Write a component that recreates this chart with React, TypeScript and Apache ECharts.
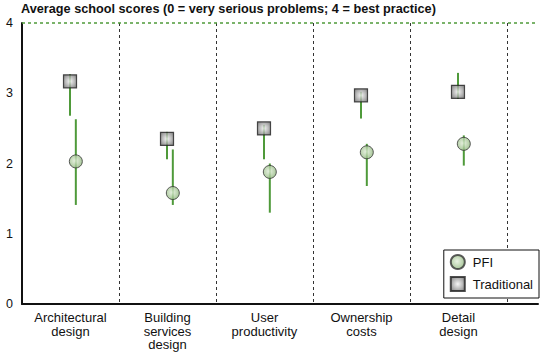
import React, { useEffect, useRef } from "react";
import * as echarts from "echarts";

const categories = ["Architectural\ndesign", "Building\nservices\ndesign", "User\nproductivity", "Ownership\ncosts", "Detail\ndesign"];
const yTicks = [0, 1, 2, 3, 4];

const pfiMean = [2.03, 1.58, 1.88, 2.16, 2.28];
const pfiLow = [1.41, 1.41, 1.30, 1.68, 1.97];
const pfiHigh = [2.63, 2.20, 2.00, 2.28, 2.40];

const tradMean = [3.17, 2.35, 2.50, 2.97, 3.02];
const tradLow = [2.68, 2.06, 2.06, 2.64, 2.92];
const tradHigh = [3.27, 2.45, 2.55, 3.02, 3.29];

const pfiOffset = 0.555;
const tradOffset = 0.495;

export default function App() {
  const ref = useRef<HTMLDivElement>(null);
  useEffect(() => {
    if (!ref.current) return;
    document.body.style.margin = "0";
    const chart = echarts.init(ref.current, undefined, { renderer: "svg" });
    const font = "Liberation Sans, Arial, Helvetica, sans-serif";
    const errData = (means: number[], lows: number[], highs: number[], off: number) =>
      means.map((_, i) => [i + off, lows[i], highs[i]]);
    const renderErr = (params: any, api: any) => {
      const x = api.value(0);
      const p1 = api.coord([x, api.value(1)]);
      const p2 = api.coord([x, api.value(2)]);
      return {
        type: "line",
        shape: { x1: p1[0], y1: p1[1], x2: p2[0], y2: p2[1] },
        style: { stroke: "#4f9a3a", lineWidth: 2 },
      };
    };
    const greenGrad = new echarts.graphic.RadialGradient(0.45, 0.45, 0.6, [
      { offset: 0, color: "#e4efdc" },
      { offset: 1, color: "#8db57a" },
    ]);
    const grayGrad = new echarts.graphic.RadialGradient(0.5, 0.5, 0.65, [
      { offset: 0, color: "#f4f4f4" },
      { offset: 1, color: "#6a6a6a" },
    ]);
    chart.setOption({
      animation: false,
      backgroundColor: "#fff",
      title: {
        text: "Average school scores (0 = very serious problems; 4 = best practice)",
        left: 21,
        top: 2,
        padding: 0,
        textStyle: { fontFamily: font, fontSize: 12.7, fontWeight: "bold", color: "#111" },
      },
      grid: { left: 22, right: 4, top: 23, bottom: 49 },
      legend: {
        orient: "vertical",
        right: 3,
        bottom: 55,
        data: ["PFI", "Traditional"],
        backgroundColor: "#fff",
        borderColor: "#111",
        borderWidth: 1,
        borderRadius: 0,
        padding: [4, 6, 6, 6],
        itemGap: 6,
        itemWidth: 14,
        itemHeight: 14,
        textStyle: { fontFamily: font, fontSize: 13, color: "#111", padding: [0, 0, 0, 3] },
      },
      xAxis: {
        type: "value",
        min: 0,
        max: 5.32,
        interval: 1,
        axisLine: { show: true, lineStyle: { color: "#111", width: 2 } },
        axisTick: { show: false },
        axisLabel: {
          customValues: categories.map((_, i) => i + 0.5),
          formatter: (v: number) => categories[Math.round(v - 0.5)] ?? "",
          fontFamily: font,
          fontSize: 13,
          color: "#111",
          lineHeight: 13.5,
          margin: 7,
          showMinLabel: true,
          showMaxLabel: true,
        },
        splitLine: {
          show: true,
          showMinLine: false,
          showMaxLine: false,
          lineStyle: { color: "#333", type: [3, 3], width: 1 },
        },
      },
      yAxis: {
        type: "value",
        min: 0,
        max: 4,
        interval: 1,
        axisLine: { show: true, lineStyle: { color: "#111", width: 2 } },
        axisTick: { show: false },
        axisLabel: {
          fontFamily: font,
          fontSize: 12.5,
          color: "#111",
          margin: 9,
          formatter: (v: number) => (yTicks.includes(v) ? String(v) : ""),
        },
        splitLine: { show: false },
      },
      series: [
        {
          type: "custom",
          name: "pfiErr",
          renderItem: renderErr,
          data: errData(pfiMean, pfiLow, pfiHigh, pfiOffset),
          encode: { x: 0, y: [1, 2] },
          z: 1,
          silent: true,
          markLine: {
            silent: true,
            symbol: "none",
            label: { show: false },
            lineStyle: { color: "#4f9a3a", type: [3, 3], width: 1.5 },
            data: [{ yAxis: 4 }],
          },
        },
        {
          type: "custom",
          name: "tradErr",
          renderItem: renderErr,
          data: errData(tradMean, tradLow, tradHigh, tradOffset),
          encode: { x: 0, y: [1, 2] },
          z: 1,
          silent: true,
        },
        {
          type: "scatter",
          name: "PFI",
          symbol: "circle",
          symbolSize: 13,
          data: pfiMean.map((v, i) => [i + pfiOffset, v]),
          itemStyle: { color: greenGrad, borderColor: "#333", borderWidth: 1 },
          z: 3,
        },
        {
          type: "scatter",
          name: "Traditional",
          symbol: "rect",
          symbolSize: 13,
          data: tradMean.map((v, i) => [i + tradOffset, v]),
          itemStyle: { color: grayGrad, borderColor: "#222", borderWidth: 1.2 },
          z: 3,
        },
      ],
    });
    return () => chart.dispose();
  }, []);
  return <div ref={ref} style={{ width: 542, height: 353, position: "absolute", left: 0, top: 0 }} />;
}
